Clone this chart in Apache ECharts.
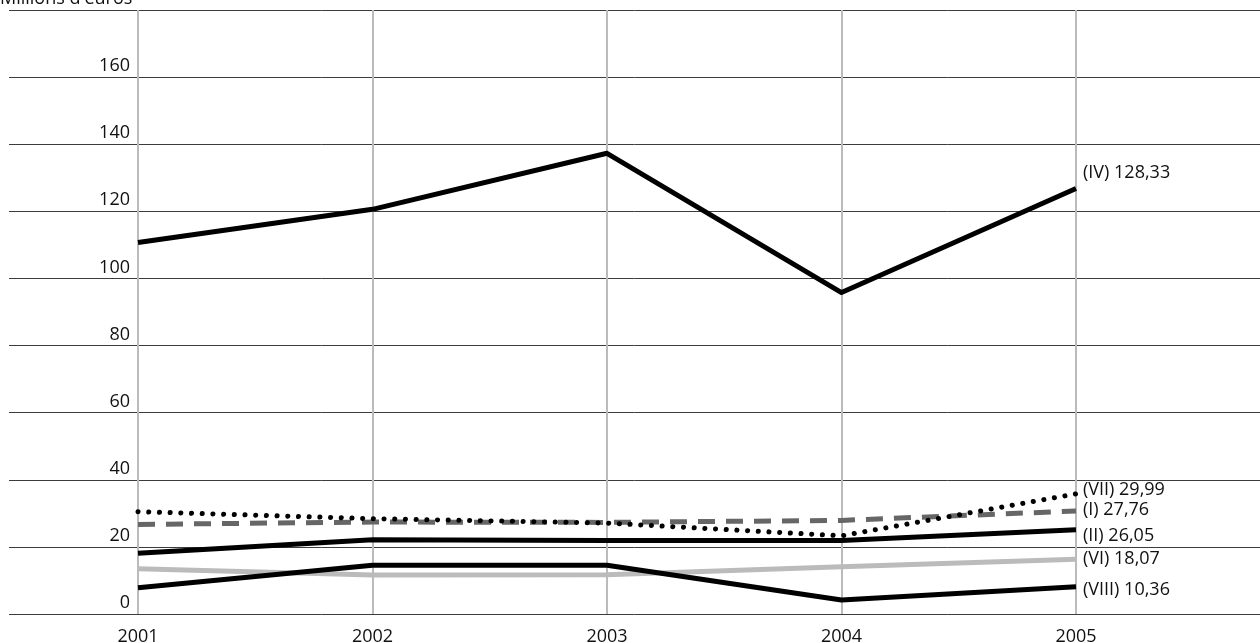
<!DOCTYPE html>
<html>
<head>
<meta charset="utf-8">
<style>
  html, body { margin: 0; padding: 0; background: #ffffff; }
  #chart { width: 1260px; height: 643px; }
</style>
<script src="https://cdn.jsdelivr.net/npm/echarts@6/dist/echarts.min.js"></script>
</head>
<body>
<div id="chart"></div>
<script>
// ---- data ----
const years = ['2001', '2002', '2003', '2004', '2005'];
const seriesIV   = [110.7, 120.6, 137.3, 95.8, 126.8];
const seriesVII  = [30.5, 28.4, 27.1, 23.3, 35.8];
const seriesI    = [26.7, 27.4, 27.3, 27.9, 30.7];
const seriesII   = [18.1, 22.1, 21.9, 21.9, 25.1];
const seriesVI   = [13.5, 11.6, 11.7, 14.1, 16.3];
const seriesVIII = [7.8, 14.5, 14.5, 4.2, 8.1];
const labelIV   = '(IV) 128,33';
const labelVII  = '(VII) 29,99';
const labelI    = '(I) 27,76';
const labelII   = '(II) 26,05';
const labelVI   = '(VI) 18,07';
const labelVIII = '(VIII) 10,36';
const yTitle = "Millions d'euros";

const FONT = 'Open Sans';
const FS = 18;
const TXT = '#111111';

function lineSeries(name, data, color, width, dash, cap, label, dy) {
  return {
    name: name,
    type: 'line',
    xAxisIndex: 1,
    yAxisIndex: 1,
    data: data,
    showSymbol: false,
    symbol: 'none',
    silent: true,
    animation: false,
    lineStyle: { color: color, width: width, type: dash, cap: cap, join: 'round' },
    endLabel: {
      show: true,
      formatter: function () { return label; },
      distance: 7,
      offset: [0, dy],
      fontFamily: FONT,
      fontSize: FS,
      color: TXT
    }
  };
}

const chart = echarts.init(document.getElementById('chart'), null, { renderer: 'canvas' });
chart.setOption({
  backgroundColor: '#ffffff',
  animation: false,
  graphic: [{
    type: 'text',
    left: 0,
    top: -10,
    style: { text: yTitle, font: FS + 'px "' + FONT + '"', fill: TXT }
  }],
  grid: [
    { left: 9, right: 0, top: 10, bottom: 29, containLabel: false, outerBoundsMode: 'none' },
    { left: 138, right: 184, top: 10, bottom: 29, containLabel: false, outerBoundsMode: 'none' }
  ],
  xAxis: [
    { gridIndex: 0, type: 'value', min: 0, max: 1, show: false },
    {
      gridIndex: 1, type: 'category', data: years, boundaryGap: false,
      axisLine: { show: false }, axisTick: { show: false },
      axisLabel: { fontFamily: FONT, fontSize: FS, color: TXT, margin: 14 },
      splitLine: { show: true, lineStyle: { color: '#bbbbbb', width: 2 } }
    }
  ],
  yAxis: [
    {
      gridIndex: 0, type: 'value', min: 0, max: 180, interval: 20,
      axisLine: { show: false }, axisTick: { show: false }, axisLabel: { show: false },
      splitLine: { show: true, lineStyle: { color: '#3c3c3c', width: 1 } }
    },
    {
      gridIndex: 1, type: 'value', min: 0, max: 180, interval: 20,
      axisLine: { show: false }, axisTick: { show: false },
      splitLine: { show: false },
      axisLabel: {
        fontFamily: FONT, fontSize: FS, color: TXT, margin: 8,
        verticalAlign: 'bottom', padding: [0, 0, 2, 0],
        formatter: function (v) { return v >= 180 ? '' : String(v); }
      }
    }
  ],
  series: [
    lineSeries('VI', seriesVI, '#bbbbbb', 5, 'solid', 'butt', labelVI, 0),
    lineSeries('I', seriesI, '#666666', 5, [17, 11], 'butt', labelI, -1),
    lineSeries('VII', seriesVII, '#000000', 5, [0.1, 10.6], 'round', labelVII, -4),
    lineSeries('II', seriesII, '#000000', 5, 'solid', 'butt', labelII, 6),
    lineSeries('VIII', seriesVIII, '#000000', 5, 'solid', 'butt', labelVIII, 3),
    lineSeries('IV', seriesIV, '#000000', 5, 'solid', 'butt', labelIV, -16)
  ]
});
</script>
</body>
</html>
